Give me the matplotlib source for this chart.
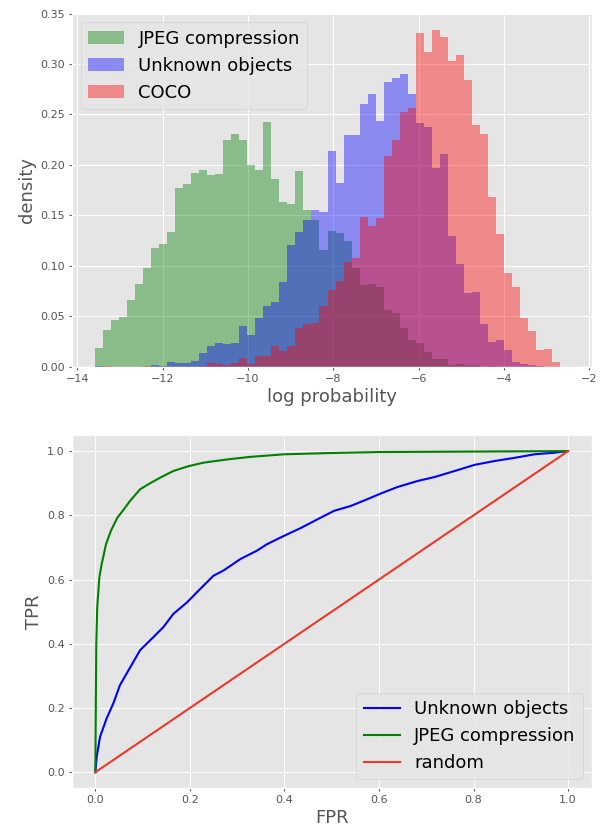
import numpy as np
import matplotlib
matplotlib.use("Agg")
import matplotlib.pyplot as plt

plt.style.use("ggplot")

# histogram bins (shared) and per-bin densities
bin_lo, bin_hi, n_bins = -13.58, -2.69, 58

jpeg_density = [0.0185, 0.0363, 0.0468, 0.0488, 0.0659, 0.0824, 0.0976, 0.1177, 0.1213, 0.1338,
                0.1773, 0.1806, 0.1918, 0.1945, 0.1902, 0.1908, 0.2251, 0.2304, 0.2251, 0.2004,
                0.1948, 0.2423, 0.1862, 0.1628, 0.1615, 0.1935, 0.1556, 0.1450, 0.1160, 0.1341,
                0.1325, 0.1246, 0.0979, 0.0808, 0.0824, 0.0791, 0.0567, 0.0537, 0.0379, 0.0260,
                0.0231, 0.0145, 0.0076, 0.0076, 0.0016, 0.0026, 0.0016, 0.0016, 0.0, 0.0007,
                0, 0, 0, 0, 0, 0, 0, 0]
unknown_density = [0.0010, 0, 0, 0, 0, 0, 0, 0.0016, 0.0007, 0.0046,
                   0.0033, 0.0033, 0.0060, 0.0138, 0.0204, 0.0231, 0.0224, 0.0231, 0.0405, 0.0313,
                   0.0485, 0.0606, 0.0639, 0.0837, 0.1203, 0.1335, 0.1450, 0.1556, 0.1536, 0.2142,
                   0.1816, 0.2297, 0.2297, 0.2604, 0.2699, 0.2432, 0.2818, 0.2861, 0.2900, 0.2703,
                   0.2416, 0.2373, 0.1968, 0.2109, 0.1299, 0.1022, 0.0735, 0.0745, 0.0426, 0.0247,
                   0.0264, 0.0165, 0.0050, 0.0023, 0.0016, 0.0010, 0, 0]
coco_density = [0, 0.0007, 0, 0, 0, 0, 0.0007, 0, 0, 0,
                0, 0, 0, 0.0010, 0.0033, 0.0026, 0.0016, 0.0033, 0.0089, 0.0023,
                0.0105, 0.0105, 0.0204, 0.0158, 0.0204, 0.0385, 0.0419, 0.0438, 0.0600, 0.0758,
                0.0847, 0.1040, 0.1081, 0.1483, 0.1394, 0.1470, 0.2093, 0.2250, 0.2521, 0.2564,
                0.3312, 0.3115, 0.3336, 0.3263, 0.3026, 0.3092, 0.2841, 0.2398, 0.2307, 0.1681,
                0.1312, 0.0929, 0.0791, 0.0484, 0.0354, 0.0165, 0.0173, 0.0049]

# ROC curves
unknown_fpr = [0.0, 0.003, 0.0099, 0.024, 0.038, 0.052, 0.070, 0.0947, 0.123, 0.144, 0.165,
               0.194, 0.222, 0.250, 0.271, 0.307, 0.342, 0.363, 0.399, 0.434, 0.477, 0.505,
               0.540, 0.575, 0.604, 0.639, 0.682, 0.717, 0.760, 0.802, 0.844, 0.887, 0.929,
               0.971, 1.0]
unknown_tpr = [0.0, 0.049, 0.110, 0.168, 0.214, 0.271, 0.317, 0.380, 0.421, 0.452, 0.493,
               0.529, 0.571, 0.612, 0.628, 0.664, 0.690, 0.710, 0.736, 0.760, 0.793, 0.814,
               0.829, 0.850, 0.868, 0.888, 0.907, 0.919, 0.938, 0.957, 0.969, 0.979, 0.990,
               0.995, 1.0]
jpeg_fpr = [0.0, 0.001, 0.002, 0.004, 0.0085, 0.0134, 0.0226, 0.033, 0.0467, 0.058, 0.0735,
            0.0947, 0.116, 0.137, 0.165, 0.197, 0.229, 0.279, 0.328, 0.399, 0.498, 0.600, 1.0]
jpeg_tpr = [0.0, 0.20, 0.40, 0.514, 0.607, 0.648, 0.710, 0.752, 0.793, 0.814, 0.845,
            0.881, 0.900, 0.917, 0.938, 0.953, 0.964, 0.974, 0.982, 0.990, 0.994, 0.997, 1.0]
random_fpr = [0.0, 1.0]
random_tpr = [0.0, 1.0]

edges = np.linspace(bin_lo, bin_hi, n_bins + 1)
centers = (edges[:-1] + edges[1:]) / 2

fig = plt.figure(figsize=(6.05, 8.31), dpi=100)
ax1 = fig.add_axes([0.1185, 0.5587, 0.8595, 0.4253])
ax2 = fig.add_axes([0.1185, 0.0514, 0.8595, 0.4251])

# --- top: histograms
for dens, col, lab in [(jpeg_density, "g", "JPEG compression"),
                       (unknown_density, "b", "Unknown objects"),
                       (coco_density, "r", "COCO")]:
    ax1.hist(centers, bins=edges, weights=dens, histtype="stepfilled",
             color=col, alpha=0.4, label=lab)
ax1.set_xlim(-14.13, -1.944)
ax1.set_xticks(np.arange(-14, -1, 2))
ax1.set_yticks(np.arange(0, 0.351, 0.05))
ax1.yaxis.set_major_formatter(matplotlib.ticker.FormatStrFormatter("%.2f"))
ax1.set_xlabel("log probability", fontsize=13, labelpad=3)
ax1.set_ylabel("density", fontsize=13, labelpad=3)
ax1.tick_params(labelsize=8, length=2.5, pad=2.5)
ax1.legend(loc="upper left", fontsize=13)

# --- bottom: ROC
ax2.plot(unknown_fpr, unknown_tpr, color="b", label="Unknown objects")
ax2.plot(jpeg_fpr, jpeg_tpr, color="g", label="JPEG compression")
ax2.plot(random_fpr, random_tpr, color="#E8392A", label="random")
ax2.set_xlabel("FPR", fontsize=13, labelpad=3)
ax2.set_ylabel("TPR", fontsize=13, labelpad=3)
ax2.tick_params(labelsize=8, length=2.5, pad=2.5)
ax2.legend(loc="lower right", fontsize=13)

fig.savefig("out.png", dpi=100)
